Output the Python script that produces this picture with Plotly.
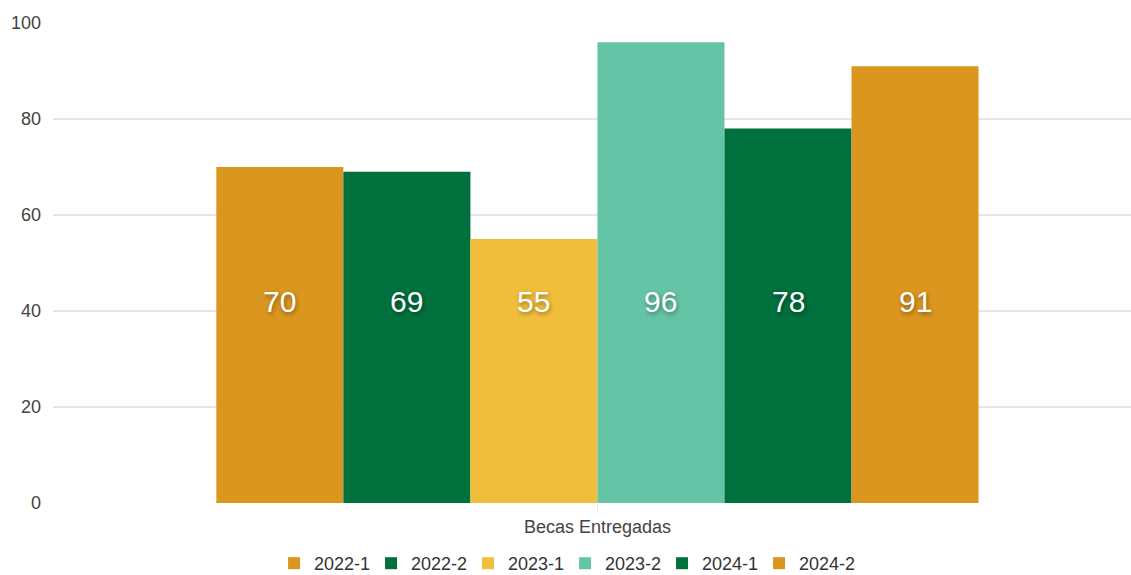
import plotly.graph_objects as go

category = "Becas Entregadas"
periods = ["2022-1", "2022-2", "2023-1", "2023-2", "2024-1", "2024-2"]
values = [70, 69, 55, 96, 78, 91]
colors = ["#DA961E", "#00703C", "#F0BE3A", "#66C4A6", "#00703C", "#DA961E"]
y_ticks = [0, 20, 40, 60, 80, 100]

bargap = 0.3
label_y = 42
FONT = "Arial, 'Liberation Sans', sans-serif"

fig = go.Figure()
n = len(periods)
bw = (1 - bargap) / n
for i, (p, v, c) in enumerate(zip(periods, values, colors)):
    fig.add_trace(go.Bar(name=p, x=[category], y=[v], marker=dict(color=c, line=dict(width=0))))
    fig.add_annotation(
        x=(i - (n - 1) / 2) * bw, y=label_y, xref="x", yref="y",
        text=str(v), showarrow=False,
        font=dict(family=FONT, size=30, color="white",
                  shadow="1px 2px 4px rgba(0,0,0,0.4)"),
    )

fig.update_layout(
    width=1131, height=575,
    margin=dict(l=53, r=0, t=23, b=72),
    barmode="group", bargap=bargap, bargroupgap=0,
    plot_bgcolor="white", paper_bgcolor="white",
    font=dict(family=FONT, color="#444"),
    legend=dict(orientation="h", x=0.475, xanchor="center", yref="container",
                y=0.02, yanchor="middle", bgcolor="rgba(0,0,0,0)",
                font=dict(size=18, color="#333"), itemwidth=30, tracegroupgap=0,
                entrywidth=52, entrywidthmode="pixels"),
    xaxis=dict(range=[-0.5, 0.49], showgrid=False, zeroline=False, showline=False,
               ticks="outside", ticklen=7, tickcolor="#e3e3e3", automargin=False,
               tickfont=dict(size=18, color="#444")),
    yaxis=dict(range=[0, 100], tickvals=y_ticks, showgrid=True, gridcolor="#e6e6e6",
               gridwidth=1.5, zeroline=False, showline=False, automargin=False,
               tickfont=dict(size=18, color="#444"), ticklabelstandoff=11),
    showlegend=True,
)

fig.write_html("out.html", config={"displayModeBar": False},
               post_script="document.body.style.margin='0';document.body.style.overflow='hidden';")
